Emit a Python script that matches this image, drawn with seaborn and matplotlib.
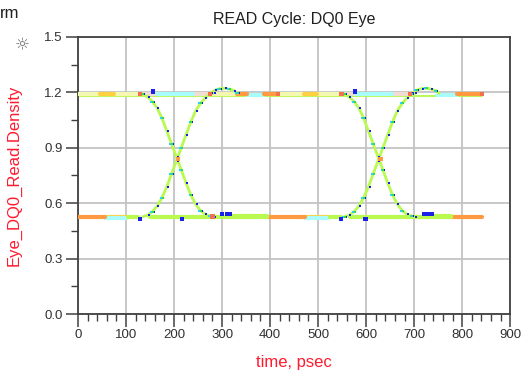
import numpy as np
import pandas as pd
import seaborn as sns
import matplotlib
matplotlib.use("Agg")
import matplotlib.pyplot as plt
from matplotlib.ticker import MultipleLocator

# ---------------- data ----------------
title = "READ Cycle: DQ0 Eye"
xlabel = "time, psec"
ylabel = "Eye_DQ0_Read.Density"
x_ticks = [0, 100, 200, 300, 400, 500, 600, 700, 800, 900]
y_ticks = [0.0, 0.3, 0.6, 0.9, 1.2, 1.5]

# transition edges (time psec, volts)
rise1_t = [135, 145, 155, 165, 175, 185, 195, 205, 215, 225, 235, 245, 255, 265, 275, 282]
rise1_v = [0.527, 0.535, 0.555, 0.585, 0.63, 0.69, 0.76, 0.83, 0.90, 0.97, 1.04, 1.10, 1.14, 1.17, 1.19, 1.195]
fall1_t = [135, 145, 155, 165, 175, 185, 195, 205, 215, 225, 235, 245, 255, 265, 275, 282]
fall1_v = [1.19, 1.175, 1.15, 1.115, 1.06, 0.99, 0.92, 0.85, 0.78, 0.71, 0.645, 0.595, 0.56, 0.54, 0.53, 0.527]
rise2_t = [555, 565, 575, 585, 595, 605, 615, 625, 635, 645, 655, 665, 675, 685, 695, 702]
rise2_v = [0.527, 0.535, 0.555, 0.585, 0.63, 0.69, 0.76, 0.83, 0.90, 0.97, 1.04, 1.10, 1.14, 1.17, 1.19, 1.195]
fall2_t = [555, 565, 575, 585, 595, 605, 615, 625, 635, 645, 655, 665, 675, 685, 695, 702]
fall2_v = [1.19, 1.175, 1.15, 1.115, 1.06, 0.99, 0.92, 0.85, 0.78, 0.71, 0.645, 0.595, 0.56, 0.54, 0.53, 0.527]
# overshoot humps after rising edges
over1_t = [276, 285, 295, 305, 315, 325, 332]
over1_v = [1.195, 1.212, 1.22, 1.222, 1.218, 1.21, 1.195]
over2_t = [696, 705, 715, 725, 735, 745, 752]
over2_v = [1.195, 1.212, 1.22, 1.222, 1.218, 1.21, 1.195]

# flat level bands: start, end, level, density class
band_t0 = [0, 46, 74, 132, 164, 240, 282, 332, 353, 388, 417, 470, 497, 552, 580, 653, 747, 790,
           0, 56, 56, 105, 150, 317, 394, 473, 473, 525, 567, 737, 777]
band_t1 = [46, 74, 132, 164, 240, 276, 332, 353, 388, 417, 470, 497, 552, 580, 653, 696, 790, 841,
           56, 105, 101, 125, 394, 394, 473, 525, 520, 548, 777, 777, 841]
band_v = [1.19, 1.19, 1.19, 1.19, 1.19, 1.19, 1.19, 1.19, 1.185, 1.19, 1.19, 1.19, 1.19, 1.19, 1.19, 1.19, 1.185, 1.19,
          0.525, 0.527, 0.52, 0.527, 0.527, 0.532, 0.525, 0.527, 0.52, 0.527, 0.527, 0.532, 0.525]
band_c = ["pale", "yellow", "pale", "pink", "cyan", "pink", "pale", "orange", "cyan", "orange", "pale", "yellow",
          "pale", "pink", "cyan", "pink", "cyan", "orange",
          "orange", "yellow", "cyan", "green", "green", "green", "orange", "yellow", "cyan", "green", "green",
          "green", "orange"]

# isolated high-density hits
hit_t = [129, 156, 275, 417, 549, 577, 692, 841, 129, 216, 280, 300, 310, 317, 548, 599, 720, 730, 737, 208, 630]
hit_v = [1.19, 1.205, 1.19, 1.19, 1.19, 1.205, 1.19, 1.19, 0.515, 0.515, 0.527, 0.54, 0.54, 0.54, 0.515, 0.515,
         0.54, 0.54, 0.54, 0.84, 0.84]
hit_c = ["red", "blue", "red", "red", "red", "blue", "red", "red", "blue", "blue", "red", "blue", "blue", "blue",
         "blue", "blue", "blue", "blue", "blue", "orange", "orange"]

palette = {"pale": "#f4f8b0", "yellow": "#ffd040", "orange": "#ff9a40", "pink": "#f0dcd0",
           "cyan": "#a8fcfc", "green": "#b8fa50", "red": "#f07050", "blue": "#1a22e6"}

# ---------------- figure ----------------
sns.set_theme(style="white")
plt.rcParams["font.family"] = ["Liberation Sans", "DejaVu Sans"]

fig = plt.figure(figsize=(5.27, 3.77), dpi=100)
ax = fig.add_axes([0.148, 0.167, 0.820, 0.735])

# bands
bands = pd.DataFrame({"t0": band_t0, "t1": band_t1, "v": band_v, "c": band_c})
rows = []
for i, r in bands.iterrows():
    rows.append({"seg": i, "t": r.t0, "v": r.v, "c": r.c})
    rows.append({"seg": i, "t": r.t1, "v": r.v, "c": r.c})
band_df = pd.DataFrame(rows)
sns.lineplot(data=band_df, x="t", y="v", hue="c", units="seg", estimator=None, palette=palette,
             lw=3.0, legend=False, ax=ax, sort=False, zorder=3)
# thinner green trace just under the high level
sns.lineplot(x=[0, 841], y=[1.182, 1.182], color="#b8fa50", lw=1.4, ax=ax, zorder=2)

# edges
edges = []
for k, (tt, vv) in enumerate([(rise1_t, rise1_v), (fall1_t, fall1_v), (rise2_t, rise2_v), (fall2_t, fall2_v),
                              (over1_t, over1_v), (over2_t, over2_v)]):
    for t, v in zip(tt, vv):
        edges.append({"seg": k, "t": t, "v": v})
edge_df = pd.DataFrame(edges)
sns.lineplot(data=edge_df, x="t", y="v", units="seg", estimator=None, color="#b8fa50", lw=2.0,
             ax=ax, sort=False, zorder=4)
# density dots along edges
dots = edge_df.iloc[1:-1]
sns.scatterplot(x=dots["t"] + 2.5, y=dots["v"], color="#1a22e6", s=4, marker="s", linewidth=0, ax=ax, zorder=5)
dots2 = edge_df.iloc[2:-1:2]
sns.scatterplot(x=dots2["t"] - 2.5, y=dots2["v"], color="#30d0ff", s=3.5, marker="s", linewidth=0, ax=ax, zorder=5)
sns.scatterplot(x=dots2["t"] + 1.0, y=dots2["v"], color="#30e040", s=3.5, marker="s", linewidth=0, ax=ax, zorder=5)

hits = pd.DataFrame({"t": hit_t, "v": hit_v, "c": hit_c})
sns.scatterplot(data=hits, x="t", y="v", hue="c", palette=palette, s=10, marker="s", linewidth=0,
                legend=False, ax=ax, zorder=6)

# axes styling
ax.set_xlim(0, 900)
ax.set_ylim(0, 1.5)
ax.set_xticks(x_ticks)
ax.set_yticks(y_ticks)
ax.set_xticklabels([str(v) for v in x_ticks])
ax.set_yticklabels([f"{v:.1f}" for v in y_ticks])
ax.xaxis.set_minor_locator(MultipleLocator(20))
ax.yaxis.set_minor_locator(MultipleLocator(0.15))
ax.grid(True, which="major", color="#c4c4c4", lw=1.3)
ax.set_axisbelow(True)
for s in ax.spines.values():
    s.set_visible(True)
    s.set_color("#404040")
    s.set_linewidth(1.3)
ax.tick_params(axis="both", which="major", direction="out", length=9, width=1.1, color="#404040",
               labelsize=9.5, labelcolor="#303030", pad=2, bottom=True, left=True)
ax.tick_params(axis="both", which="minor", direction="out", length=5, width=1.0, color="#404040",
               bottom=True, left=True)
ax.set_xlabel(xlabel, color="#ff1a2e", fontsize=12, labelpad=10)
ax.set_ylabel(ylabel, color="#ff1a2e", fontsize=12, labelpad=16)
ax.set_title(title, color="#202020", fontsize=11.5, pad=9)

fig.text(0.0, 0.965, "rm", fontsize=12, color="#202020", ha="left", va="center")
fig.text(0.042, 0.88, "\u263c", fontsize=12, color="#707070", ha="center", va="center",
         family=["DejaVu Sans"])

fig.savefig("out.png", dpi=100)
